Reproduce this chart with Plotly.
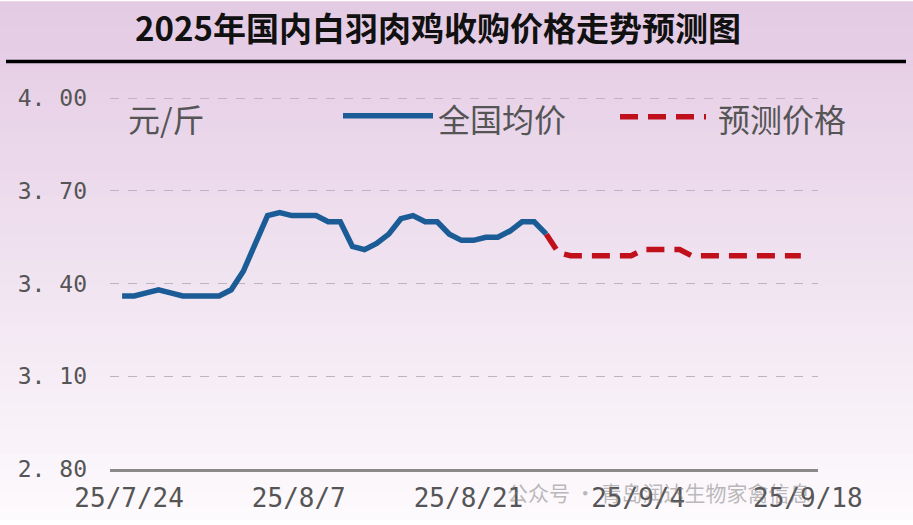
import plotly.graph_objects as go

# 全国均价 (元/斤), daily from 7/24
actual_dates = ["2025-07-24", "2025-07-25", "2025-07-26", "2025-07-27", "2025-07-28", "2025-07-29",
                "2025-07-30", "2025-07-31", "2025-08-01", "2025-08-02", "2025-08-03", "2025-08-04",
                "2025-08-05", "2025-08-06", "2025-08-07", "2025-08-08", "2025-08-09", "2025-08-10",
                "2025-08-11", "2025-08-12", "2025-08-13", "2025-08-14", "2025-08-15", "2025-08-16",
                "2025-08-17", "2025-08-18", "2025-08-19", "2025-08-20", "2025-08-21", "2025-08-22",
                "2025-08-23", "2025-08-24", "2025-08-25", "2025-08-26", "2025-08-27", "2025-08-28"]
actual_price = [3.36, 3.36, 3.37, 3.38, 3.37, 3.36, 3.36, 3.36, 3.36, 3.38, 3.44, 3.53,
                3.62, 3.63, 3.62, 3.62, 3.62, 3.60, 3.60, 3.52, 3.51, 3.53, 3.56, 3.61,
                3.62, 3.60, 3.60, 3.56, 3.54, 3.54, 3.55, 3.55, 3.57, 3.60, 3.60, 3.56]

# 预测价格
forecast_dates = ["2025-08-28", "2025-08-29", "2025-08-30", "2025-09-04", "2025-09-05",
                  "2025-09-08", "2025-09-09", "2025-09-18"]
forecast_price = [3.56, 3.50, 3.49, 3.49, 3.51, 3.51, 3.49, 3.49]

tick_dates = ["2025-07-24", "2025-08-07", "2025-08-21", "2025-09-04", "2025-09-18"]
tick_text = ["25/7/24", "25/8/7", "25/8/21", "25/9/4", "25/9/18"]
y_ticks = [2.80, 3.10, 3.40, 3.70, 4.00]
y_text = ["2. 80", "3. 10", "3. 40", "3. 70", "4. 00"]

W, H = 913, 525
mt, mb, ml, mr = 92, 525 - 474, 110, 913 - 818
ph = H - mt - mb


def py(v):
    # pixel row -> paper y
    return (H - mb - v) / ph


def px(v):
    return (v - ml) / (W - ml - mr)


fig = go.Figure()

fig.add_trace(go.Scatter(x=actual_dates, y=actual_price, mode="lines", name="全国均价",
                         line=dict(color="#1b5c96", width=5.5)))
fig.add_trace(go.Scatter(x=forecast_dates, y=forecast_price, mode="lines", name="预测价格",
                         line=dict(color="#c0101c", width=5.5, dash="18px,10px")))

# background gradient
top = (228, 203, 228)
bot = (253, 250, 253)
n = 40
shapes = []
for i in range(n):
    t = i / (n - 1)
    c = tuple(int(top[k] + (bot[k] - top[k]) * t) for k in range(3))
    shapes.append(dict(type="rect", xref="paper", yref="paper", x0=px(0), x1=px(W),
                       y0=py(H * (i + 1) / n + 1), y1=py(H * i / n),
                       fillcolor="rgb(%d,%d,%d)" % c, line=dict(width=0), layer="below"))

# title rule
shapes.append(dict(type="line", xref="paper", yref="paper", x0=px(6), x1=px(906),
                   y0=py(61), y1=py(61), line=dict(color="black", width=3.5)))
# legend keys
shapes.append(dict(type="line", xref="paper", yref="paper", x0=px(343), x1=px(433),
                   y0=py(116), y1=py(116), line=dict(color="#1b5c96", width=5.5)))
shapes.append(dict(type="line", xref="paper", yref="paper", x0=px(620), x1=px(706),
                   y0=py(117), y1=py(117), line=dict(color="#c0101c", width=5.5, dash="18px,10px")))

cjk = "Noto Sans CJK SC"
annotations = [
    dict(text="<b>2025年国内白羽肉鸡收购价格走势预测图</b>", xref="paper", yref="paper",
         x=px(438), y=py(26), yanchor="middle", showarrow=False,
         font=dict(size=33, color="#111", family=cjk)),
    dict(text="元/斤", xref="paper", yref="paper", x=px(126), y=py(118), xanchor="left",
         yanchor="middle", showarrow=False, font=dict(size=32, color="#555", family=cjk)),
    dict(text="全国均价", xref="paper", yref="paper", x=px(436), y=py(118), xanchor="left",
         yanchor="middle", showarrow=False, font=dict(size=32, color="#555", family=cjk)),
    dict(text="预测价格", xref="paper", yref="paper", x=px(716), y=py(118), xanchor="left",
         yanchor="middle", showarrow=False, font=dict(size=32, color="#555", family=cjk)),
    dict(text="公众号 · 青岛润达生物家禽信息", xref="paper", yref="paper", x=px(505), y=py(497),
         xanchor="left", yanchor="middle", showarrow=False,
         font=dict(size=21, color="rgba(120,120,120,0.5)", family=cjk)),
]

fig.update_layout(
    width=W, height=H,
    margin=dict(l=ml, r=mr, t=mt, b=mb),
    paper_bgcolor="rgba(0,0,0,0)",
    plot_bgcolor="rgba(0,0,0,0)",
    shapes=shapes,
    annotations=annotations,
    showlegend=False,
)
fig.update_xaxes(range=["2025-07-23", "2025-09-19 10:00"], tickvals=tick_dates, ticktext=tick_text,
                 showgrid=False, showline=True, linecolor="#8a8a8a", linewidth=2.5,
                 ticks="", ticklabelshift=7, ticklabelstandoff=4,
                 tickfont=dict(size=26, color="#555", family="DejaVu Sans Mono"))
fig.update_yaxes(range=[2.80, 4.02], tickvals=y_ticks, ticktext=y_text,
                 showgrid=True, gridcolor="#bdb5bd", griddash="dash", gridwidth=1.4,
                 zeroline=False, showline=False, ticks="", ticklabelstandoff=22,
                 tickfont=dict(size=23, color="#555", family="DejaVu Sans Mono"))

fig.write_html("out.html", config={"displayModeBar": False},
               post_script="document.body.style.margin='0px';")
